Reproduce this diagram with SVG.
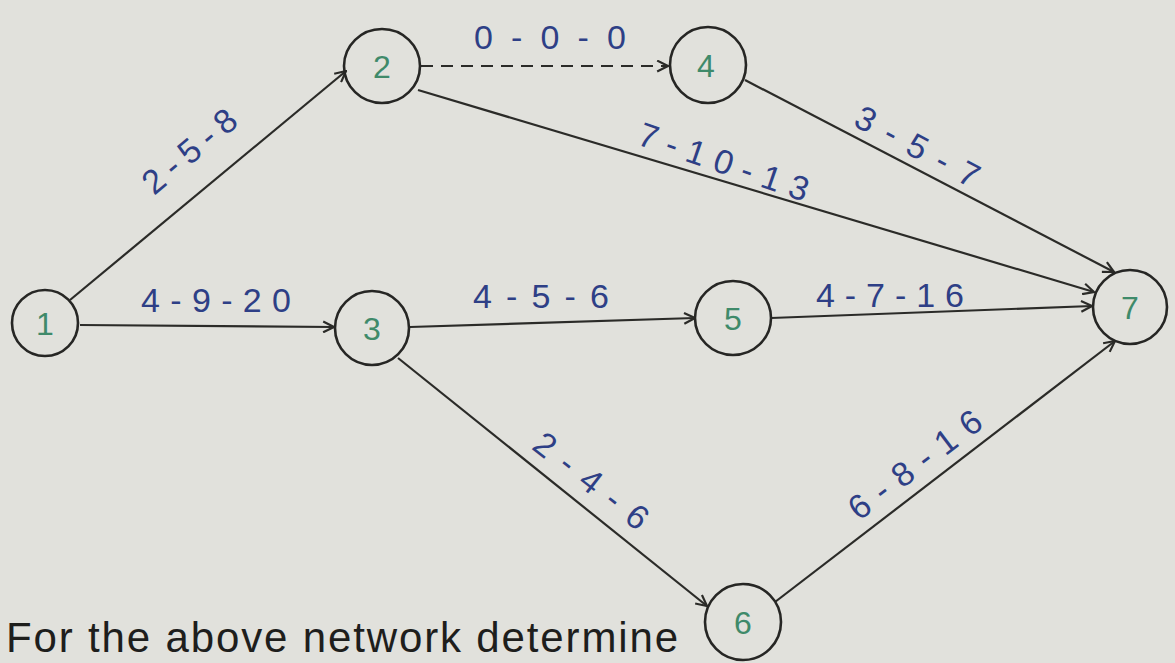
<svg xmlns="http://www.w3.org/2000/svg" width="1175" height="663" viewBox="0 0 1175 663">
<defs>
<marker id="arr" viewBox="0 0 12 12" refX="11" refY="6" markerWidth="13" markerHeight="13" markerUnits="userSpaceOnUse" orient="auto">
<path d="M1,1 L11,6 L1,11" fill="none" stroke="#2b2b28" stroke-width="2"/>
</marker>
<style>
.node ellipse{fill:none;stroke:#262624;stroke-width:2.6}
.node text{font-family:"Liberation Sans",Arial,sans-serif;font-size:32px;fill:#3f8a6a;text-anchor:middle}
.edge{fill:none;stroke:#2b2b28;stroke-width:2.2;marker-end:url(#arr)}
.dash{stroke-dasharray:12 8}
.lbl{font-family:"Liberation Sans",Arial,sans-serif;font-size:34px;fill:#2e3f86;text-anchor:middle}
.note{font-family:"Liberation Sans",Arial,sans-serif;font-size:42px;fill:#1e1e1c}
</style>
</defs>
<rect width="1175" height="663" fill="#e1e1dc"/>
<g id="connectors">
<path class="edge" d="M70,300 L346,71"/>
<path class="edge" d="M80,325 L334,327"/>
<path class="edge dash" d="M421,66 L668,66"/>
<path class="edge" d="M418,90 L1094,292"/>
<path class="edge" d="M745,80 L1114,272"/>
<path class="edge" d="M410,327 L695,318"/>
<path class="edge" d="M771,318 L1092,306"/>
<path class="edge" d="M398,358 L707,606"/>
<path class="edge" d="M775,602 L1115,341"/>
</g>
<g id="labels">
<text class="lbl" transform="translate(197,160) rotate(-40)" textLength="112" lengthAdjust="spacing">2-5-8</text>
<text class="lbl" x="216" y="312" textLength="150" lengthAdjust="spacing">4-9-20</text>
<text class="lbl" x="550" y="49" textLength="152" lengthAdjust="spacing">0-0-0</text>
<text class="lbl" x="541" y="308" textLength="136" lengthAdjust="spacing">4-5-6</text>
<text class="lbl" x="890" y="307" textLength="148" lengthAdjust="spacing">4-7-16</text>
<text class="lbl" transform="translate(720,173) rotate(19)" textLength="178" lengthAdjust="spacing">7-10-13</text>
<text class="lbl" transform="translate(912,157) rotate(28)" textLength="136" lengthAdjust="spacing">3-5-7</text>
<text class="lbl" transform="translate(584,490) rotate(38)" textLength="136" lengthAdjust="spacing">2-4-6</text>
<text class="lbl" transform="translate(922,474) rotate(-37)" textLength="158" lengthAdjust="spacing">6-8-16</text>
</g>
<g id="node1" class="node"><ellipse cx="45" cy="323" rx="33" ry="33"/><text x="45" y="335">1</text></g>
<g id="node2" class="node"><ellipse cx="382" cy="66" rx="38" ry="37"/><text x="382" y="78">2</text></g>
<g id="node3" class="node"><ellipse cx="372" cy="328" rx="37" ry="37"/><text x="372" y="340">3</text></g>
<g id="node4" class="node"><ellipse cx="708" cy="65" rx="38" ry="38"/><text x="706" y="77">4</text></g>
<g id="node5" class="node"><ellipse cx="733" cy="318" rx="38" ry="37"/><text x="733" y="330">5</text></g>
<g id="node6" class="node"><ellipse cx="743" cy="622" rx="38" ry="38"/><text x="743" y="634">6</text></g>
<g id="node7" class="node"><ellipse cx="1130" cy="307" rx="37" ry="37"/><text x="1130" y="319">7</text></g>
<text class="note" x="6" y="652" textLength="672" lengthAdjust="spacing">For the above network determine</text>
</svg>
